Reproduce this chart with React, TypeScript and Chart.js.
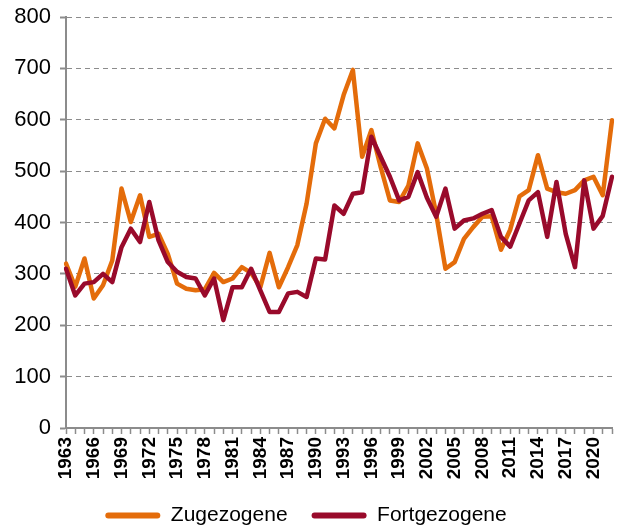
import React, { useEffect, useRef } from "react";
import { Chart, registerables } from "chart.js";
Chart.register(...registerables);

const years = [
  "1963", "1964", "1965", "1966", "1967", "1968", "1969", "1970", "1971", "1972",
  "1973", "1974", "1975", "1976", "1977", "1978", "1979", "1980", "1981", "1982",
  "1983", "1984", "1985", "1986", "1987", "1988", "1989", "1990", "1991", "1992",
  "1993", "1994", "1995", "1996", "1997", "1998", "1999", "2000", "2001", "2002",
  "2003", "2004", "2005", "2006", "2007", "2008", "2009", "2010", "2011", "2012",
  "2013", "2014", "2015", "2016", "2017", "2018", "2019", "2020", "2021", "2022",
];

const zugezogene = [
  320, 275, 330, 252, 278, 326, 466, 401, 453, 372,
  378, 339, 281, 271, 268, 270, 302, 284, 291, 313,
  302, 274, 341, 274, 313, 356, 437, 554, 602, 583,
  648, 697, 528, 580, 508, 443, 440, 472, 554, 505,
  417, 310, 323, 368, 391, 411, 412, 347, 386, 451,
  463, 531, 466, 459, 456, 463, 482, 489, 453, 599,
];

const fortgezogene = [
  310, 258, 281, 284, 300, 284, 352, 388, 362, 440,
  365, 323, 304, 294, 291, 258, 291, 210, 274, 274,
  310, 268, 226, 226, 262, 265, 255, 330, 328, 433,
  417, 456, 459, 567, 528, 489, 443, 450, 498, 448,
  411, 466, 388, 404, 408, 417, 424, 372, 353, 398,
  443, 459, 372, 479, 378, 313, 482, 388, 413, 489,
];

const ORANGE = "#E46C0A";
const RED = "#990A2B";
const GRID = "#8C8C8C";
const FONT = 'Arial, "Liberation Sans", sans-serif';

export default function App() {
  const ref = useRef<HTMLCanvasElement>(null);
  useEffect(() => {
    const chart = new Chart(ref.current as HTMLCanvasElement, {
      type: "line",
      data: {
        labels: years,
        datasets: [
          {
            label: "Zugezogene",
            data: zugezogene,
            borderColor: ORANGE,
            backgroundColor: ORANGE,
            borderWidth: 4.5,
            pointRadius: 0,
            tension: 0,
            order: 1,
            borderJoinStyle: "round",
            borderCapStyle: "round",
          },
          {
            label: "Fortgezogene",
            data: fortgezogene,
            borderColor: RED,
            backgroundColor: RED,
            borderWidth: 4.5,
            pointRadius: 0,
            tension: 0,
            order: 0,
            borderJoinStyle: "round",
            borderCapStyle: "round",
          },
        ],
      },
      options: {
        animation: false,
        responsive: false,
        maintainAspectRatio: false,
        layout: { padding: { left: 0, right: 8, top: 17, bottom: 0 } },
        plugins: {
          tooltip: { enabled: false },
          legend: {
            position: "bottom",
            labels: {
              color: "#000",
              font: { size: 21, family: FONT },
              boxWidth: 55,
              boxHeight: 6,
              padding: 24,
              sort: (a: any, b: any) => a.datasetIndex - b.datasetIndex,
              generateLabels: (c: any) =>
                (Chart.defaults.plugins.legend.labels.generateLabels as any)(c).map((l: any) => ({
                  ...l,
                  lineWidth: 0,
                  fillStyle: l.strokeStyle,
                  borderRadius: 3,
                })),
            },
          },
        },
        scales: {
          x: {
            offset: false,
            grid: {
              drawOnChartArea: false,
              drawTicks: true,
              tickLength: 6,
              tickColor: GRID,
              tickWidth: 1.5,
            },
            border: { color: GRID, width: 2 },
            ticks: {
              autoSkip: false,
              maxRotation: 90,
              minRotation: 90,
              padding: 3,
              color: "#000",
              font: { size: 19, weight: "bold", family: FONT },
              callback: (_v: any, i: number) => (i % 3 === 0 ? years[i] : ""),
            },
            afterFit: (s: any) => {
              s.height = 53;
              s.paddingLeft = 0;
              s.paddingRight = 0;
            },
          },
          y: {
            min: 0,
            max: 800,
            grid: {
              color: GRID,
              lineWidth: 1,
              tickLength: 6,
              tickColor: GRID,
              tickWidth: 2,
              tickBorderDash: [],
            },
            border: { color: GRID, width: 2, dash: [5, 4] },
            ticks: {
              stepSize: 100,
              padding: 9,
              color: "#000",
              font: { size: 22, family: FONT, lineHeight: 1 },
            },
            afterFit: (s: any) => {
              s.width = 66;
              s.paddingTop = 0;
              s.paddingBottom = 0;
            },
          },
        },
      },
    } as any);
    return () => chart.destroy();
  }, []);
  return (
    <div style={{ position: "fixed", left: 0, top: 0, width: 620, height: 536 }}>
      <canvas ref={ref} width={620} height={536} style={{ display: "block" }} />
    </div>
  );
}
